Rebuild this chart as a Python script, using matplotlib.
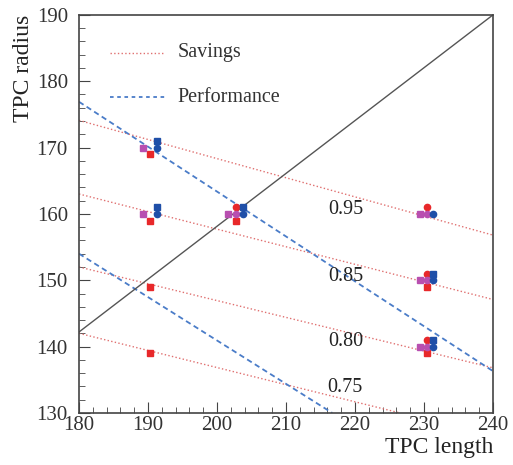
import matplotlib
matplotlib.use("Agg")
import matplotlib.pyplot as plt
import numpy as np
from matplotlib.ticker import MultipleLocator

plt.rcParams['font.family'] = ['Liberation Serif', 'DejaVu Serif']

# iso-lines: (x0, y0, x1, y1)
savings = [(180, 174.1, 240, 156.8),
           (180, 163.0, 240, 147.1),
           (180, 152.0, 240, 136.8),
           (180, 142.0, 226.5, 130.0)]
performance = [(180, 176.9, 240, 136.3),
               (180, 154.0, 216.7, 130.0)]
diag = (180, 142.2, 240, 190.0)

# points
red_sq_x = [190.3, 190.3, 190.3, 190.3, 202.8, 230.4, 230.4]
red_sq_y = [169, 159, 149, 139, 159, 149, 139]
red_ci_x = [202.8, 230.4, 230.4, 230.4]
red_ci_y = [161, 161, 151, 141]
pur_sq_x = [189.3, 189.3, 201.6, 229.4, 229.4, 229.4]
pur_sq_y = [170, 160, 160, 160, 150, 140]
pur_ci_x = [202.8, 230.4, 230.4, 230.4]
pur_ci_y = [160, 160, 150, 140]
blu_sq_x = [191.3, 191.3, 203.8, 231.3, 231.3]
blu_sq_y = [171, 161, 161, 151, 141]
blu_ci_x = [191.3, 191.3, 203.8, 231.3, 231.3, 231.3]
blu_ci_y = [170, 160, 160, 160, 150, 140]

labels = ['0.95', '0.85', '0.80', '0.75']
label_x = [218.6, 218.6, 218.6, 218.6]
label_y = [160.7, 150.6, 140.8, 133.9]

fig = plt.figure(figsize=(5.13, 4.65), dpi=100)
ax = fig.add_axes([0.154, 0.112, 0.807, 0.856])

for x0, y0, x1, y1 in savings:
    ax.plot([x0, x1], [y0, y1], color='#e07070', linestyle=':', lw=1.0)
for x0, y0, x1, y1 in performance:
    ax.plot([x0, x1], [y0, y1], color='#4a7cc8', linestyle=(0, (3, 2)), lw=1.3)
ax.plot([diag[0], diag[2]], [diag[1], diag[3]], color='#555555', lw=1.0)

ms = 4.5
ax.plot(red_sq_x, red_sq_y, 's', color='#e8282a', ms=ms, ls='none')
ax.plot(red_ci_x, red_ci_y, 'o', color='#e8282a', ms=ms, ls='none')
ax.plot(pur_sq_x, pur_sq_y, 's', color='#b84fb0', ms=ms, ls='none')
ax.plot(pur_ci_x, pur_ci_y, 'o', color='#b84fb0', ms=ms, ls='none')
ax.plot(blu_sq_x, blu_sq_y, 's', color='#1f4fa8', ms=ms, ls='none')
ax.plot(blu_ci_x, blu_ci_y, 'o', color='#1f4fa8', ms=ms, ls='none')

for t, x, y in zip(labels, label_x, label_y):
    ax.text(x, y, t, fontsize=14.5, ha='center', va='center', color='#222222')

# legend drawn by hand
ax.plot([184.5, 192.5], [184.3, 184.3], color='#e07070', linestyle=':', lw=1.0)
ax.text(194.3, 184.3, 'Savings', fontsize=14.5, va='center', color='#333333')
ax.plot([184.5, 192.5], [177.6, 177.6], color='#4a7cc8', linestyle=(0, (2, 2)), lw=1.3)
ax.text(194.3, 177.6, 'Performance', fontsize=14.5, va='center', color='#333333')

ax.set_xlim(180, 240)
ax.set_ylim(130, 190)
ax.xaxis.set_major_locator(MultipleLocator(10))
ax.xaxis.set_minor_locator(MultipleLocator(2))
ax.yaxis.set_major_locator(MultipleLocator(10))
ax.yaxis.set_minor_locator(MultipleLocator(2))
ax.tick_params(which='both', direction='in', top=False, right=False, labelsize=15, colors='#444444')
ax.tick_params(which='major', length=8)
ax.tick_params(which='minor', length=4)
ax.tick_params(axis='y', pad=8, labelcolor='#333333')
ax.tick_params(axis='x', pad=2, labelcolor='#333333')
for s in ax.spines.values():
    s.set_color('#444444')
    s.set_linewidth(1.2)

ax.set_xlabel('TPC length', fontsize=17, loc='right', color='#222222', labelpad=2)
ax.set_ylabel('TPC radius', fontsize=17, loc='top', color='#222222', labelpad=2)

fig.savefig('out.png', dpi=100)
